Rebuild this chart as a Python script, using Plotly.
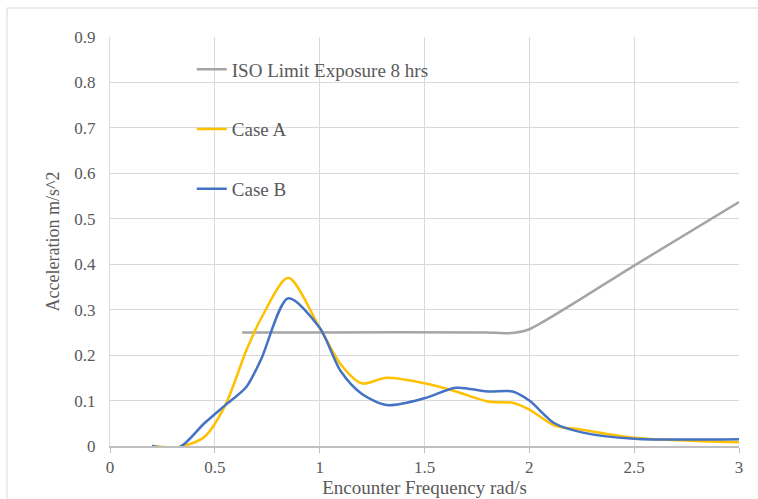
import plotly.graph_objects as go

freq = [0.2, 0.33, 0.45, 0.55, 0.65, 0.72, 0.85, 1.0, 1.1, 1.2, 1.32, 1.5, 1.65, 1.8, 1.92, 2.0, 2.12, 2.25, 2.5, 3.0]
case_a = [0.0, -0.002, 0.02, 0.09, 0.21, 0.28, 0.37, 0.26, 0.18, 0.138, 0.15, 0.138, 0.12, 0.098, 0.095, 0.08, 0.045, 0.036, 0.018, 0.008]
case_b = [0.0, -0.003, 0.05, 0.09, 0.13, 0.19, 0.325, 0.26, 0.165, 0.115, 0.09, 0.105, 0.128, 0.12, 0.12, 0.1, 0.05, 0.03, 0.016, 0.015]
iso_x = [0.63, 1.0, 1.8, 1.9, 2.0, 2.5, 3.0]
iso_y = [0.25, 0.25, 0.25, 0.248, 0.257, 0.397, 0.537]

x_ticks = [0, 0.5, 1, 1.5, 2, 2.5, 3]
x_labels = ["0", "0.5", "1", "1.5", "2", "2.5", "3"]
y_ticks = [0, 0.1, 0.2, 0.3, 0.4, 0.5, 0.6, 0.7, 0.8, 0.9]
y_labels = ["0", "0.1", "0.2", "0.3", "0.4", "0.5", "0.6", "0.7", "0.8", "0.9"]

fig = go.Figure()
fig.add_trace(go.Scatter(x=iso_x, y=iso_y, mode="lines", name="ISO Limit Exposure 8 hrs",
                         line=dict(color="#A5A5A5", width=2.5, shape="spline", smoothing=0.6),
                         legendgroup="iso"))
fig.add_trace(go.Scatter(x=freq, y=case_a, mode="lines", name="Case A",
                         line=dict(color="#FFC000", width=2.5, shape="spline", smoothing=0.8),
                         legendgroup="a"))
fig.add_trace(go.Scatter(x=freq, y=case_b, mode="lines", name="Case B",
                         line=dict(color="#4472C4", width=2.5, shape="spline", smoothing=0.8),
                         legendgroup="b"))

font_fam = "Liberation Serif"
fig.update_layout(
    width=758, height=499,
    margin=dict(l=110, r=19, t=37, b=53),
    paper_bgcolor="white", plot_bgcolor="white",
    font=dict(family=font_fam, size=17, color="#595959"),
    showlegend=True,
    legend=dict(x=0.13, y=0.967, xanchor="left", yanchor="top", bgcolor="rgba(0,0,0,0)",
                font=dict(family=font_fam, size=19, color="#595959"),
                tracegroupgap=32, traceorder="grouped"),
    xaxis=dict(range=[0, 3], tickvals=x_ticks, ticktext=x_labels,
               showgrid=True, gridcolor="#D9D9D9", gridwidth=1.3,
               zeroline=False, showline=True, linecolor="#BFBFBF", linewidth=1.5,
               ticks="outside", ticklen=5, tickcolor="#BFBFBF", automargin=False,
               tickfont=dict(family=font_fam, size=17, color="#595959"),
               title=dict(text="Encounter Frequency rad/s", font=dict(family=font_fam, size=19, color="#595959"), standoff=1)),
    yaxis=dict(range=[0, 0.9], tickvals=y_ticks, ticktext=y_labels,
               showgrid=True, gridcolor="#D9D9D9", gridwidth=1.3,
               zeroline=False, showline=True, linecolor="#D9D9D9", linewidth=1.3,
               ticks="", ticklabelstandoff=10, automargin=False,
               tickfont=dict(family=font_fam, size=17, color="#595959"),
               title=dict(text="Acceleration m/s^2", font=dict(family=font_fam, size=18, color="#595959"), standoff=9)),
)
fig.add_shape(type="rect", xref="paper", yref="paper",
              x0=(7 - 110) / 629, x1=(770 - 110) / 629,
              y0=(446 - 510) / 409, y1=(446 - 8) / 409,
              line=dict(color="#D9D9D9", width=1), layer="below")

fig.write_html("out.html")
